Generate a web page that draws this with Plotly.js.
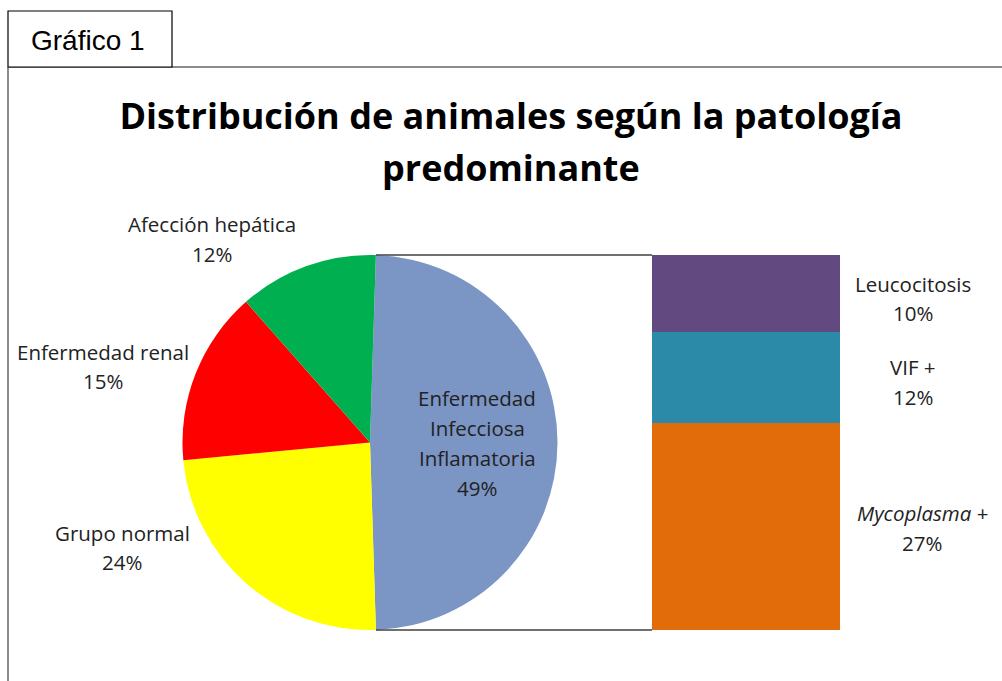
<!DOCTYPE html>
<html>
<head>
<meta charset="utf-8">
<script src="https://cdn.plot.ly/plotly-3.0.1.min.js"></script>
<style>html,body{margin:0;padding:0;background:#fff;}#chart{width:1002px;height:681px;}</style>
</head>
<body>
<div id="chart"></div>
<script>
// ---- data ----
const chartTag = 'Gráfico 1';
const titleLines = ['Distribución de animales según la patología', 'predominante'];
const pieLabels = ['Enfermedad Infecciosa Inflamatoria', 'Grupo normal', 'Enfermedad renal', 'Afección hepática'];
const pieValues = [49, 24, 15, 12];
const pieColors = ['#7b95c5', '#ffff00', '#ff0000', '#00b050'];
const barLabels = ['Mycoplasma +', 'VIF +', 'Leucocitosis'];
const barValues = [27, 12, 10];
const barColors = ['#e36c0a', '#2a8aa8', '#624a80'];

const W = 1002, H = 681;
const px = x => x / W;
const py = y => 1 - y / H;
const FONT = 'Open Sans, sans-serif';
const LBL = {family: FONT, size: 20.5, color: '#222'};

const traces = [];
traces.push({
  type: 'pie', labels: pieLabels, values: pieValues, sort: false, direction: 'clockwise',
  rotation: 1.8, marker: {colors: pieColors, line: {width: 0}}, textinfo: 'none', hoverinfo: 'label+percent',
  domain: {x: [px(182.5), px(557.5)], y: [py(630), py(255)]}, showlegend: false
});
barLabels.forEach((l, i) => {
  traces.push({type: 'bar', x: [0], y: [barValues[i]], name: l, width: 1,
    marker: {color: barColors[i], line: {width: 0}}, xaxis: 'x', yaxis: 'y', showlegend: false, hoverinfo: 'name+y'});
});

const annotations = [];
function addLines(lines, cx, cy0, sp, font) {
  lines.forEach((t, k) => annotations.push({xref: 'paper', yref: 'paper', x: px(cx), y: py(cy0 + k * sp),
    xanchor: 'center', yanchor: 'middle', showarrow: false, text: t, font: font || LBL}));
}
const pct = v => v + '%';
// pie labels
addLines(pieLabels[0].split(' ').concat([pct(pieValues[0])]), 477, 398, 30);
addLines([pieLabels[1], pct(pieValues[1])], 122, 533, 29);
addLines([pieLabels[2], pct(pieValues[2])], 103, 352, 29);
addLines([pieLabels[3], pct(pieValues[3])], 212, 224, 30);
// bar labels
addLines([barLabels[2], pct(barValues[2])], 913, 284, 29);
addLines([barLabels[1], pct(barValues[1])], 913, 367, 30);
addLines([barLabels[0].replace('Mycoplasma', '<i>Mycoplasma</i>'), pct(barValues[0])], 922, 513, 30);
// title second line
annotations.push({xref: 'paper', yref: 'paper', x: px(511), y: py(167), xanchor: 'center', yanchor: 'middle',
  showarrow: false, text: '<b>' + titleLines[1] + '</b>', font: {family: FONT, size: 36, color: '#000'}});
// tag
annotations.push({xref: 'paper', yref: 'paper', x: px(88), y: py(40), xanchor: 'center', yanchor: 'middle',
  showarrow: false, text: chartTag, font: {family: 'Liberation Sans, Arial, sans-serif', size: 28, color: '#000'}});

const shapes = [
  {type: 'line', xref: 'paper', yref: 'paper', x0: px(8), x1: px(1002), y0: py(67), y1: py(67), line: {color: '#8c8c8c', width: 2}},
  {type: 'line', xref: 'paper', yref: 'paper', x0: px(8), x1: px(8), y0: py(67), y1: py(681), line: {color: '#8c8c8c', width: 2}},
  {type: 'rect', xref: 'paper', yref: 'paper', x0: px(8), x1: px(172), y0: py(11), y1: py(67), line: {color: '#000', width: 1.2}, fillcolor: '#fff'},
  {type: 'line', xref: 'paper', yref: 'paper', x0: px(376), x1: px(652), y0: py(255), y1: py(255), line: {color: '#404040', width: 1.5}},
  {type: 'line', xref: 'paper', yref: 'paper', x0: px(376), x1: px(652), y0: py(630), y1: py(630), line: {color: '#404040', width: 1.5}}
];

const layout = {
  width: W, height: H, margin: {l: 0, r: 0, t: 0, b: 0}, paper_bgcolor: '#fff', plot_bgcolor: 'rgba(0,0,0,0)',
  title: {text: '<b>' + titleLines[0] + '</b>', font: {family: FONT, size: 36, color: '#000'},
    xref: 'paper', yref: 'paper', x: px(511), xanchor: 'center', y: py(116), yanchor: 'middle'},
  barmode: 'stack',
  xaxis: {domain: [px(652), px(840)], range: [-0.5, 0.5], visible: false, fixedrange: true},
  yaxis: {domain: [py(630), py(255)], range: [0, barValues.reduce((a, b) => a + b, 0)], visible: false, fixedrange: true},
  shapes: shapes, annotations: annotations, showlegend: false
};
Plotly.newPlot('chart', traces, layout, {displayModeBar: false, staticPlot: true});
</script>
</body>
</html>
